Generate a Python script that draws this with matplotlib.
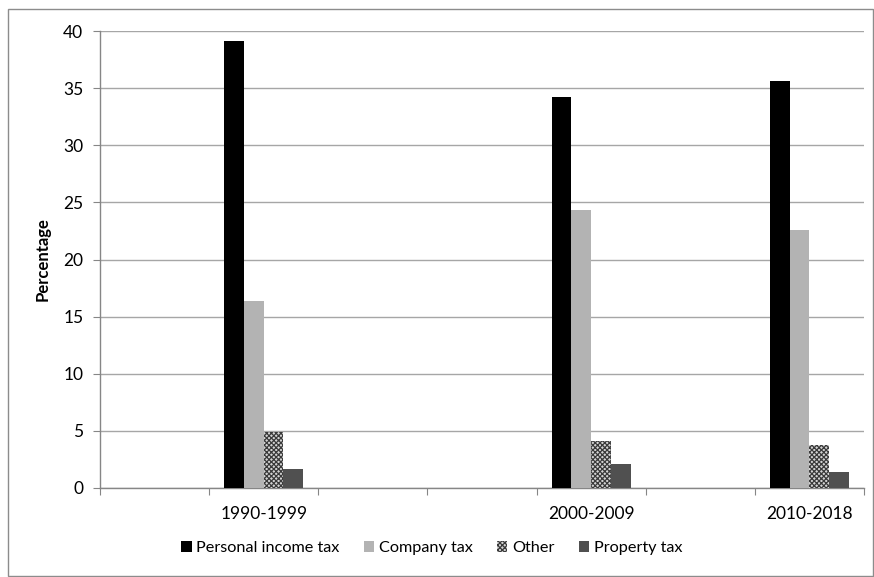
import numpy as np
import matplotlib
matplotlib.use("Agg")
import matplotlib.pyplot as plt
from matplotlib.patches import Rectangle

plt.rcParams['font.family'] = ['Lato', 'DejaVu Sans']
plt.rcParams['hatch.linewidth'] = 0.9

# Periods along the x axis (empty slots are unlabeled category positions)
categories = ["", "1990-1999", "", "", "2000-2009", "", "2010-2018"]
series_names = ["Personal income tax", "Company tax", "Other", "Property tax"]
nan = np.nan
personal_income = [nan, 39.1, nan, nan, 34.2, nan, 35.6]
company = [nan, 16.4, nan, nan, 24.3, nan, 22.6]
other = [nan, 4.9, nan, nan, 4.1, nan, 3.8]
property_tax = [nan, 1.7, nan, nan, 2.1, nan, 1.4]
yticks = [0, 5, 10, 15, 20, 25, 30, 35, 40]

series = [personal_income, company, other, property_tax]
styles = [
    dict(color="#000000"),
    dict(color="#b3b3b3"),
    dict(facecolor="#d4d4d4", edgecolor="#3a3a3a", hatch="xxxxxxx", linewidth=0),
    dict(color="#505050"),
]

FS = 12.5
LEG_FS = 11.7

fig = plt.figure(figsize=(8.74, 5.77), dpi=100)
ax = fig.add_axes([100 / 874, 89 / 577, 764 / 874, 457 / 577])

# Outer chart frame
fig.patches.append(Rectangle((8 / 874, 1 / 577), 865 / 874, 567 / 577,
                             transform=fig.transFigure, fill=False,
                             edgecolor="#8c8c8c", linewidth=1.0))

x = np.arange(len(categories))
width = 0.181
offsets = (np.arange(4) - 1.5) * width
for vals, off, st, name in zip(series, offsets, styles, series_names):
    ax.bar(x + off, vals, width, label=name, zorder=3, **st)

ax.set_xlim(-0.5, len(categories) - 0.5)
ax.set_ylim(0, 40)
ax.set_yticks(yticks)
ax.set_yticklabels([str(v) for v in yticks], fontsize=FS)
ax.yaxis.grid(True, color="#a6a6a6", linewidth=1.0, zorder=0)
ax.set_axisbelow(True)

# Category boundaries as major ticks, labels on minor ticks at centers
ax.set_xticks(np.arange(len(categories) + 1) - 0.5)
ax.set_xticklabels([])
ax.set_xticks(x, minor=True)
ax.set_xticklabels(categories, minor=True, fontsize=FS)
ax.tick_params(axis="x", which="minor", length=0, pad=13)
ax.tick_params(axis="x", which="major", length=5, color="#868686")
ax.tick_params(axis="y", length=5, color="#868686", pad=7)

for side in ["top", "right"]:
    ax.spines[side].set_visible(False)
for side in ["left", "bottom"]:
    ax.spines[side].set_color("#868686")
    ax.spines[side].set_linewidth(1.0)

ax.set_ylabel("Percentage", fontsize=12, fontweight="bold", labelpad=9)

fig.legend(loc="center", bbox_to_anchor=(432 / 874, 1 - 548 / 577), ncol=4,
           frameon=False, fontsize=LEG_FS, handlelength=0.62, handleheight=0.62,
           handletextpad=0.3, columnspacing=1.5)

fig.savefig("out.png", dpi=100)
